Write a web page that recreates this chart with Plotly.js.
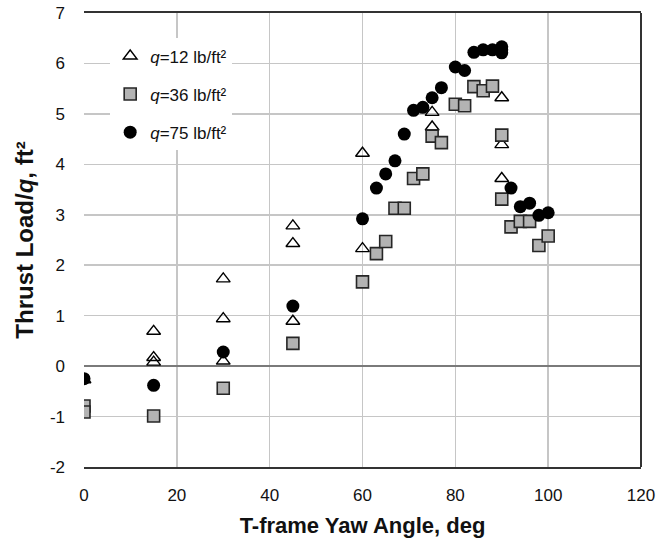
<!DOCTYPE html>
<html>
<head>
<meta charset="utf-8">
<script src="https://cdn.plot.ly/plotly-3.0.1.min.js"></script>
<style>
  html, body { margin: 0; padding: 0; background: #fff; }
  #chart { width: 661px; height: 539px; }
</style>
</head>
<body>
<div id="chart"></div>
<script>
// Thrust load coefficient vs. T-frame yaw angle, three dynamic pressures
const yawQ12 = [0, 15, 15, 15, 30, 30, 30, 45, 45, 45, 60, 60, 75, 75, 90, 90, 90];
const loadQ12 = [-0.27, 0.69, 0.17, 0.08, 1.73, 0.94, 0.10, 2.78, 2.43, 0.89, 4.22, 2.33, 5.03, 4.74, 5.32, 4.39, 3.72];

const yawQ36 = [0, 0, 15, 30, 45, 60, 63, 65, 67, 69, 71, 73, 75, 77, 80, 82, 84, 86, 88, 90, 90, 92, 94, 96, 98, 100];
const loadQ36 = [-0.79, -0.91, -0.99, -0.44, 0.45, 1.67, 2.23, 2.47, 3.13, 3.13, 3.72, 3.81, 4.56, 4.43, 5.19, 5.16, 5.54, 5.46, 5.55, 4.58, 3.31, 2.76, 2.87, 2.87, 2.39, 2.58];

const yawQ75 = [0, 15, 30, 45, 60, 63, 65, 67, 69, 71, 73, 75, 77, 80, 82, 84, 86, 88, 90, 90, 90, 92, 94, 96, 98, 100];
const loadQ75 = [-0.25, -0.38, 0.28, 1.19, 2.92, 3.53, 3.81, 4.07, 4.60, 5.07, 5.13, 5.32, 5.52, 5.93, 5.86, 6.22, 6.27, 6.27, 6.33, 6.27, 6.21, 3.53, 3.16, 3.23, 2.99, 3.04];

const seriesNames = ['<i>q</i>=12 lb/ft²', '<i>q</i>=36 lb/ft²', '<i>q</i>=75 lb/ft²'];
const xTicks = [0, 20, 40, 60, 80, 100, 120];
const yTicks = [-2, -1, 0, 1, 2, 3, 4, 5, 6, 7];

const FONT = 'Liberation Sans, Arial, sans-serif';

const traces = [
  {
    x: yawQ12, y: loadQ12, name: seriesNames[0], legendgroup: 'a',
    type: 'scatter', mode: 'markers',
    marker: { symbol: 'triangle-up-open', size: 12, color: '#000', line: { width: 1.4, color: '#000' } }
  },
  {
    x: yawQ36, y: loadQ36, name: seriesNames[1], legendgroup: 'b',
    type: 'scatter', mode: 'markers',
    marker: { symbol: 'square', size: 12, color: '#b3b3b3', line: { width: 1.6, color: '#262626' } }
  },
  {
    x: yawQ75, y: loadQ75, name: seriesNames[2], legendgroup: 'c',
    type: 'scatter', mode: 'markers',
    marker: { symbol: 'circle', size: 13, color: '#000', line: { width: 0 } }
  }
];

const layout = {
  width: 661, height: 539,
  margin: { l: 84, r: 20, t: 13, b: 72 },
  paper_bgcolor: '#fff', plot_bgcolor: '#fff',
  font: { family: FONT, color: '#111' },
  showlegend: true,
  legend: {
    x: 0.047, y: 0.944, xanchor: 'left', yanchor: 'top',
    bgcolor: '#fff', borderwidth: 0,
    font: { family: FONT, size: 17, color: '#111' },
    traceorder: 'grouped', tracegroupgap: 13,
    itemwidth: 30
  },
  xaxis: {
    range: [0, 120], tickvals: xTicks, ticktext: xTicks.map(String),
    showgrid: true, gridcolor: '#c6c6c6', gridwidth: 1.5,
    zeroline: false, showline: true, mirror: true, linecolor: '#333', linewidth: 2,
    ticks: '', ticklabelstandoff: 12,
    tickfont: { family: FONT, size: 17, color: '#111' },
    title: { text: '<b>T-frame Yaw Angle, deg</b>', font: { family: FONT, size: 22, color: '#111' }, standoff: 13 }
  },
  yaxis: {
    range: [-2, 7], tickvals: yTicks, ticktext: yTicks.map(String),
    showgrid: true, gridcolor: '#c6c6c6', gridwidth: 1.5,
    zeroline: true, zerolinecolor: '#7a7a7a', zerolinewidth: 1.5,
    showline: false,
    ticks: '', ticklabelstandoff: 18,
    tickfont: { family: FONT, size: 17, color: '#111' },
    title: { text: '<b>Thrust Load/<i>q</i>, ft²</b>', font: { family: FONT, size: 24, color: '#111' }, standoff: 9 }
  },
  shapes: [
    { type: 'line', xref: 'paper', yref: 'paper', x0: 1, x1: 1, y0: 0, y1: 1, line: { color: '#333', width: 2 } }
  ]
};

Plotly.newPlot('chart', traces, layout, { displayModeBar: false, staticPlot: true });
</script>
</body>
</html>
